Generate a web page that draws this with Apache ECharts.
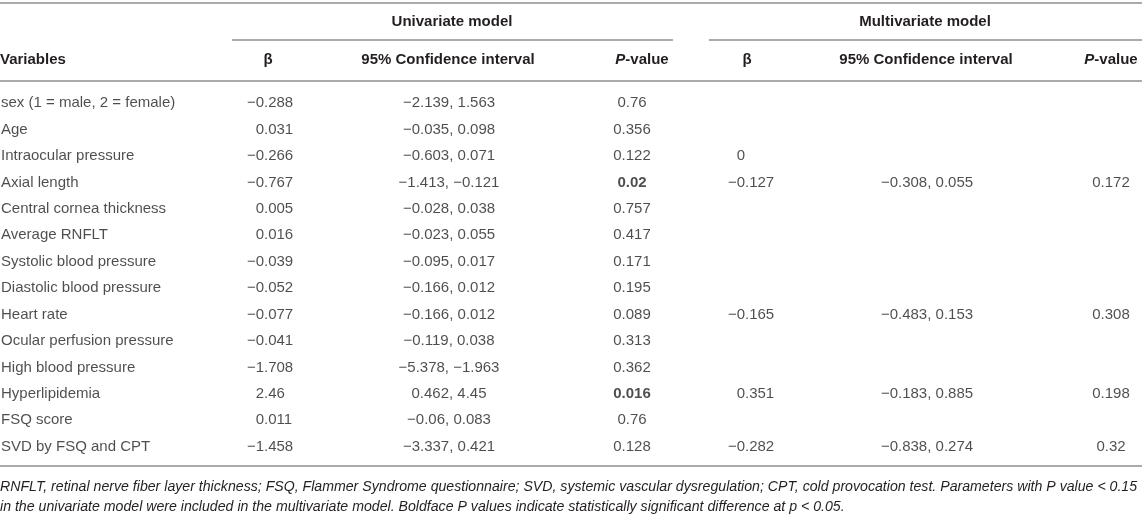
<!DOCTYPE html>
<html lang="en">
<head>
    <meta charset="UTF-8">
    <title>Univariate and multivariate model</title>
    <script src="https://cdn.jsdelivr.net/npm/echarts@6/dist/echarts.min.js"></script>
    <style>
        html, body { margin: 0; padding: 0; background: #fff; }
        #main { width: 1142px; height: 515px; }
    </style>
</head>
<body>
<div id="main"></div>
<script>
    // table data (null = empty cell)
    var variables = ['sex (1 = male, 2 = female)', 'Age', 'Intraocular pressure', 'Axial length',
        'Central cornea thickness', 'Average RNFLT', 'Systolic blood pressure', 'Diastolic blood pressure',
        'Heart rate', 'Ocular perfusion pressure', 'High blood pressure', 'Hyperlipidemia', 'FSQ score',
        'SVD by FSQ and CPT'];
    var uniBeta = [-0.288, 0.031, -0.266, -0.767, 0.005, 0.016, -0.039, -0.052, -0.077, -0.041, -1.708, 2.46, 0.011, -1.458];
    var uniLow = [-2.139, -0.035, -0.603, -1.413, -0.028, -0.023, -0.095, -0.166, -0.166, -0.119, -5.378, 0.462, -0.06, -3.337];
    var uniHigh = [1.563, 0.098, 0.071, -0.121, 0.038, 0.055, 0.017, 0.012, 0.012, 0.038, -1.963, 4.45, 0.083, 0.421];
    var uniP = [0.76, 0.356, 0.122, 0.02, 0.757, 0.417, 0.171, 0.195, 0.089, 0.313, 0.362, 0.016, 0.76, 0.128];
    var multiBeta = [null, null, 0, -0.127, null, null, null, null, -0.165, null, null, 0.351, null, -0.282];
    var multiLow = [null, null, null, -0.308, null, null, null, null, -0.483, null, null, -0.183, null, -0.838];
    var multiHigh = [null, null, null, 0.055, null, null, null, null, 0.153, null, null, 0.885, null, 0.274];
    var multiP = [null, null, null, 0.172, null, null, null, null, 0.308, null, null, 0.198, null, 0.32];
    var boldP = 0.05;
    var footnote = 'RNFLT, retinal nerve fiber layer thickness; FSQ, Flammer Syndrome questionnaire; SVD, systemic vascular dysregulation; CPT, cold provocation test. Parameters with P value < 0.15\n' +
        'in the univariate model were included in the multivariate model. Boldface P values indicate statistically significant difference at p < 0.05.';

    var FONT = '"Liberation Sans", Arial, Helvetica, sans-serif';
    var TXT = '#231f20';
    var RULE = '#ababab';

    function fmt(n) {
        return String(n).replace('-', '\u2212');
    }

    // scatter points on the grid, one per filled cell
    function cells(x, vals, textOf) {
        var out = [];
        for (var i = 0; i < vals.length; i++) {
            if (vals[i] === null) continue;
            out.push({value: [x, variables[i], textOf(i)]});
        }
        return out;
    }

    function textSeries(data, align) {
        return {
            type: 'scatter',
            symbolSize: 0.1,
            itemStyle: {color: 'rgba(0,0,0,0)'},
            silent: true,
            data: data,
            label: {
                show: true,
                position: 'inside',
                align: align,
                verticalAlign: 'middle',
                fontFamily: FONT,
                fontSize: 15,
                color: TXT,
                formatter: function (p) { return p.value[2]; }
            }
        };
    }

    // beta columns are aligned on the decimal point: integer part right of x, fraction left of x
    function intPart(v) {
        var s = fmt(v), d = s.indexOf('.');
        return d < 0 ? s : s.slice(0, d);
    }
    function fracPart(v) {
        var s = fmt(v), d = s.indexOf('.');
        return d < 0 ? '' : s.slice(d);
    }
    function betaSeries(x, vals) {
        return [
            textSeries(cells(x, vals, function (i) { return intPart(vals[i]); }), 'right'),
            textSeries(cells(x, vals, function (i) { return fracPart(vals[i]); }), 'left')
        ];
    }

    function pSeries(x, vals) {
        var data = cells(x, vals, function (i) { return fmt(vals[i]); });
        data.forEach(function (d) {
            if (parseFloat(String(d.value[2]).replace('\u2212', '-')) < boldP) d.label = {fontWeight: 'bold'};
        });
        return textSeries(data, 'center');
    }

    var myChart = echarts.init(document.getElementById('main'));

    function head(x, y, text, align) {
        return {
            type: 'text', x: x, y: y,
            style: {text: text, font: 'bold 15px ' + FONT, fill: TXT, textAlign: align, textVerticalAlign: 'middle'}
        };
    }
    function pHead(x, y) {
        return {
            type: 'text', x: x, y: y,
            style: {
                text: '{i|P}{n|-value}',
                textAlign: 'center', textVerticalAlign: 'middle',
                rich: {
                    i: {fontFamily: FONT, fontSize: 15, fontWeight: 'bold', fontStyle: 'italic', fill: TXT},
                    n: {fontFamily: FONT, fontSize: 15, fontWeight: 'bold', fill: TXT}
                }
            }
        };
    }
    function rule(x1, x2, y) {
        return {type: 'line', shape: {x1: x1, y1: y, x2: x2, y2: y}, style: {stroke: RULE, lineWidth: 2}, silent: true};
    }

    var option = {
        animation: false,
        grid: {left: 0, right: 0, top: 90, height: 370},
        xAxis: {type: 'value', min: 0, max: 1142, show: false},
        yAxis: {type: 'category', data: variables, inverse: true, show: false},
        graphic: [
            rule(0, 1142, 3),
            rule(232, 673, 40),
            rule(709, 1142, 40),
            rule(0, 1142, 81),
            rule(0, 1142, 466),
            head(452, 22, 'Univariate model', 'center'),
            head(925, 22, 'Multivariate model', 'center'),
            head(0, 60, 'Variables', 'left'),
            head(268, 60, '\u03b2', 'center'),
            head(448, 60, '95% Confidence interval', 'center'),
            pHead(642, 60),
            head(747, 60, '\u03b2', 'center'),
            head(926, 60, '95% Confidence interval', 'center'),
            pHead(1111, 60),
            {
                type: 'text', x: 0, y: 477,
                style: {text: footnote, font: 'italic 14.15px ' + FONT, fill: TXT, lineHeight: 20}
            }
        ],
        series: [].concat(
            textSeries(cells(1, variables, function (i) { return variables[i]; }), 'left'),
            betaSeries(264, uniBeta),
            textSeries(cells(449, uniLow, function (i) { return fmt(uniLow[i]) + ', ' + fmt(uniHigh[i]); }), 'center'),
            pSeries(632, uniP),
            betaSeries(745, multiBeta),
            textSeries(cells(927, multiLow, function (i) { return fmt(multiLow[i]) + ', ' + fmt(multiHigh[i]); }), 'center'),
            pSeries(1111, multiP)
        )
    };
    myChart.setOption(option);
</script>
</body>
</html>
